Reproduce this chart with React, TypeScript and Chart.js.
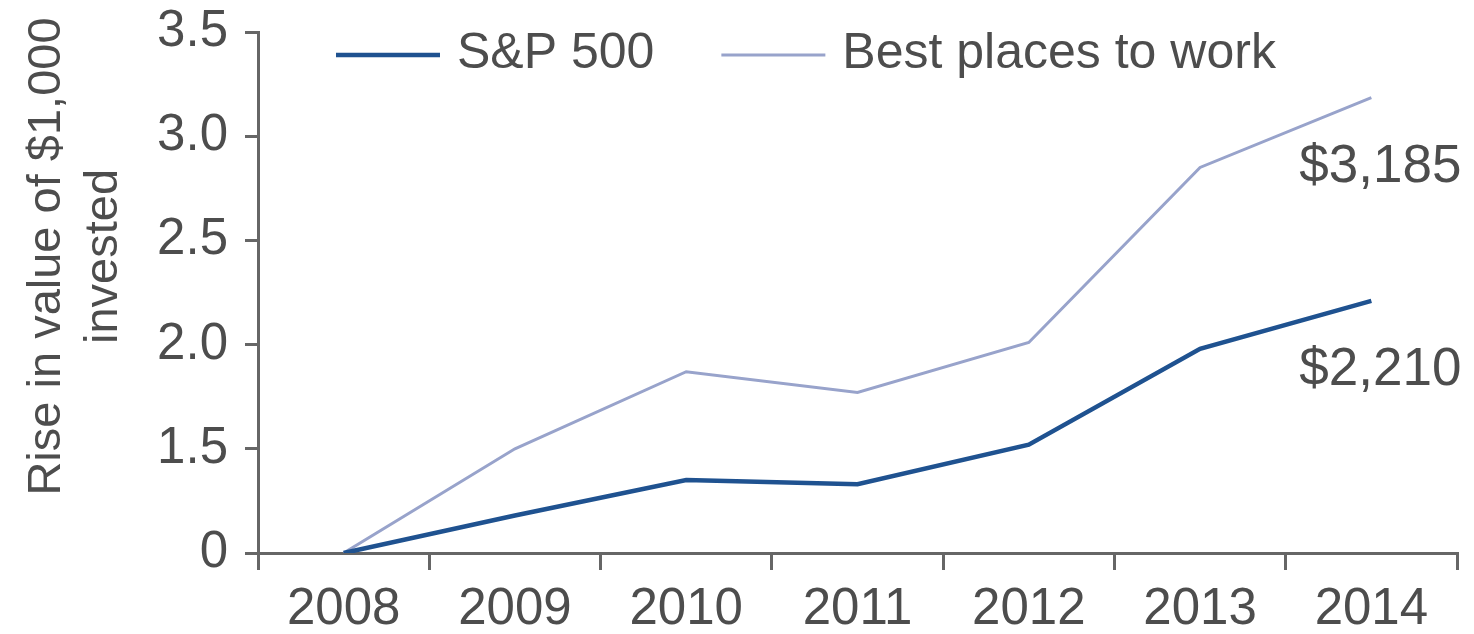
import React, { useEffect, useRef } from 'react';
import { Chart, registerables } from 'chart.js';

Chart.register(...registerables);

const years = ['2008', '2009', '2010', '2011', '2012', '2013', '2014'];
const sp500 = [1.0, 1.18, 1.35, 1.33, 1.52, 1.98, 2.21];
const bestPlaces = [1.0, 1.5, 1.87, 1.77, 2.01, 2.85, 3.185];
const yTickValues = [1.0, 1.5, 2.0, 2.5, 3.0, 3.5];
const yTickLabels = ['0', '1.5', '2.0', '2.5', '3.0', '3.5'];
const seriesNames = ['S&P 500', 'Best places to work'];
const seriesColors = ['#1f5290', '#98a3cb'];
const seriesWidths = [4.5, 3];
const yTitleLines = ['Rise in value of $1,000', 'invested'];

const FONT = "'Liberation Sans', Arial, Helvetica, sans-serif";
const TEXT = '#4d4d4d';
const AXIS = '#666666';

const overlayPlugin = {
  id: 'overlay',
  afterDatasetsDraw(chart: any) {
    const { ctx, chartArea } = chart;
    ctx.save();
    // end value labels
    ctx.fillStyle = TEXT;
    ctx.font = `53px ${FONT}`;
    ctx.textAlign = 'center';
    ctx.textBaseline = 'middle';
    chart.data.datasets.forEach((ds: any, i: number) => {
      const meta = chart.getDatasetMeta(i);
      const last = meta.data.length - 1;
      const pt = meta.data[last];
      const v = ds.data[last] as number;
      const txt = '$' + Math.round(v * 1000).toLocaleString('en-US');
      ctx.fillText(txt, pt.x + 9, pt.y + 70);
    });

    // legend
    ctx.font = `50px ${FONT}`;
    ctx.textAlign = 'left';
    let x = chartArea.left + 78;
    const y = chartArea.top + 22;
    chart.data.datasets.forEach((ds: any) => {
      ctx.strokeStyle = ds.borderColor;
      ctx.lineWidth = ds.borderWidth;
      ctx.beginPath();
      ctx.moveTo(x, y + 1);
      ctx.lineTo(x + 104, y + 1);
      ctx.stroke();
      ctx.fillStyle = TEXT;
      ctx.fillText(ds.label, x + 121, y);
      x += 121 + ctx.measureText(ds.label).width + 67;
    });

    // y-axis title
    ctx.font = `47px ${FONT}`;
    ctx.textAlign = 'center';
    ctx.textBaseline = 'alphabetic';
    const cy = (chartArea.top + chartArea.bottom) / 2 - 36;
    yTitleLines.forEach((line, k) => {
      ctx.save();
      ctx.translate(chartArea.left - 198 + k * 57, cy);
      ctx.rotate(-Math.PI / 2);
      ctx.fillText(line, 0, 0);
      ctx.restore();
    });
    ctx.restore();
  },
};

export default function App() {
  const ref = useRef<HTMLCanvasElement | null>(null);

  useEffect(() => {
    if (!ref.current) return;
    const chart = new Chart(ref.current, {
      type: 'line',
      data: {
        labels: years,
        datasets: [
          {
            label: seriesNames[0],
            data: sp500,
            borderColor: seriesColors[0],
            backgroundColor: seriesColors[0],
            borderWidth: seriesWidths[0],
            pointRadius: 0,
            tension: 0,
          },
          {
            label: seriesNames[1],
            data: bestPlaces,
            borderColor: seriesColors[1],
            backgroundColor: seriesColors[1],
            borderWidth: seriesWidths[1],
            pointRadius: 0,
            tension: 0,
          },
        ],
      },
      options: {
        animation: false,
        responsive: true,
        maintainAspectRatio: false,
        layout: { padding: { left: 148, right: 17, top: 32, bottom: 0 } },
        plugins: {
          legend: { display: false },
          tooltip: { enabled: false },
          title: { display: false },
        },
        scales: {
          x: {
            type: 'category',
            offset: true,
            afterFit: (scale: any) => {
              scale.height = 81;
              scale.paddingLeft = 0;
              scale.paddingRight = 0;
            },
            grid: {
              offset: true,
              drawOnChartArea: false,
              drawTicks: true,
              tickLength: 17,
              color: AXIS,
              lineWidth: 3,
            },
            border: { display: true, color: AXIS, width: 3 },
            ticks: {
              color: TEXT,
              font: { family: FONT, size: 51, lineHeight: 1 },
              padding: 14,
              maxRotation: 0,
              autoSkip: false,
            },
          },
          y: {
            type: 'linear',
            min: 1,
            max: 3.5,
            afterBuildTicks: (scale: any) => {
              scale.ticks = yTickValues.map((v) => ({ value: v }));
            },
            afterFit: (scale: any) => {
              scale.width = 110;
              scale.paddingTop = 0;
              scale.paddingBottom = 0;
            },
            grid: {
              drawOnChartArea: false,
              drawTicks: true,
              tickLength: 13,
              color: AXIS,
              lineWidth: 3,
            },
            border: { display: true, color: AXIS, width: 3 },
            ticks: {
              color: TEXT,
              font: { family: FONT, size: 51, lineHeight: 1 },
              padding: 17,
              callback: (_v: any, i: number) => yTickLabels[i],
            },
          },
        },
      },
      plugins: [overlayPlugin],
    });
    return () => chart.destroy();
  }, []);

  return (
    <div
      style={{
        position: 'fixed',
        left: 0,
        top: 0,
        width: '1474px',
        height: '634px',
        background: '#ffffff',
      }}
    >
      <canvas ref={ref} />
    </div>
  );
}
